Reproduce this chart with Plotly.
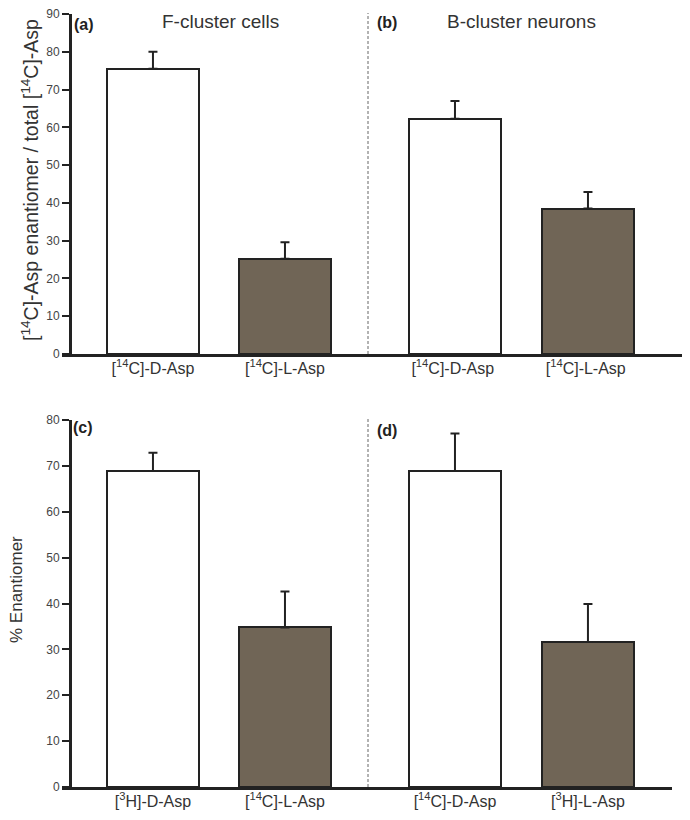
import plotly.graph_objects as go

# ---- data ----
cats_a = ["[<sup>14</sup>C]-D-Asp", "[<sup>14</sup>C]-L-Asp"]
vals_a = [75.5, 25.2]
err_a = [4.5, 4.4]

cats_b = ["[<sup>14</sup>C]-D-Asp ", "[<sup>14</sup>C]-L-Asp "]
vals_b = [62.3, 38.5]
err_b = [4.7, 4.4]

cats_c = ["[<sup>3</sup>H]-D-Asp", "[<sup>14</sup>C]-L-Asp"]
vals_c = [68.9, 34.8]
err_c = [4.0, 7.8]

cats_d = ["[<sup>14</sup>C]-D-Asp", "[<sup>3</sup>H]-L-Asp"]
vals_d = [68.9, 31.6]
err_d = [8.2, 8.3]

top_ticks = [0, 10, 20, 30, 40, 50, 60, 70, 80, 90]
bot_ticks = [0, 10, 20, 30, 40, 50, 60, 70, 80]

# page body has an 8px default margin; size the figure to fit the window
OFF = 8
W, H = 690 - 2 * OFF, 820 - 2 * OFF
def px(x):
    return (x - OFF) / W
def py(y):
    return 1 - (y - OFF) / H

FILLS = ["#ffffff", "#706556"]
EDGE = "#222222"
FONT = "Liberation Sans, Arial, sans-serif"

fig = go.Figure()

def add_bars(cats, vals, errs, xa, ya, width):
    fig.add_trace(go.Bar(
        x=cats, y=vals, xaxis=xa, yaxis=ya, width=width,
        marker=dict(color=FILLS, line=dict(color=EDGE, width=2)),
        error_y=dict(type="data", array=errs, arrayminus=[0] * len(errs),
                     symmetric=False, color=EDGE, thickness=2, width=4.5),
        showlegend=False, hoverinfo="x+y",
    ))

add_bars(cats_a, vals_a, err_a, "x", "y", 0.697)
add_bars(cats_b, vals_b, err_b, "x2", "y2", 0.69)
add_bars(cats_c, vals_c, err_c, "x3", "y3", 0.697)
add_bars(cats_d, vals_d, err_d, "x4", "y4", 0.69)

xcommon = dict(showline=True, linewidth=3, linecolor=EDGE, ticks="",
               showgrid=False, zeroline=False, type="category", automargin=False,
               tickfont=dict(family=FONT, size=16, color="#333333"),
               ticklabelstandoff=-2, ticklabeloverflow="allow", fixedrange=True)

top_dom = [py(354), py(14)]
bot_dom = [py(787), py(420)]

fig.update_layout(
    width=W, height=H,
    margin=dict(l=0, r=0, t=0, b=0, autoexpand=False),
    paper_bgcolor="white", plot_bgcolor="rgba(0,0,0,0)",
    bargap=0,
    xaxis=dict(domain=[px(62), px(368)], range=[-0.689, 1.629], anchor="y", **xcommon),
    xaxis2=dict(domain=[px(368), px(682)], range=[-0.654, 1.707], anchor="y2", **xcommon),
    xaxis3=dict(domain=[px(62), px(368)], range=[-0.689, 1.629], anchor="y3", **xcommon),
    xaxis4=dict(domain=[px(368), px(672)], range=[-0.654, 1.632], anchor="y4", **xcommon),
)

ycommon = dict(showline=True, linewidth=3, linecolor=EDGE, ticks="outside",
               ticklen=7, tickwidth=2, tickcolor=EDGE, showgrid=False,
               zeroline=False, automargin=False, ticklabeloverflow="allow",
               tickfont=dict(family=FONT, size=12, color="#444444"),
               fixedrange=True)

fig.update_layout(
    yaxis=dict(domain=top_dom, range=[0, 90.02], tickvals=top_ticks, anchor="free",
               position=px(70), **ycommon),
    yaxis2=dict(domain=top_dom, range=[0, 90.02], anchor="x2", visible=False),
    yaxis3=dict(domain=bot_dom, range=[0, 80.02], tickvals=bot_ticks, anchor="free",
                position=px(70), **ycommon),
    yaxis4=dict(domain=bot_dom, range=[0, 80.02], anchor="x4", visible=False),
)

# dashed separators
fig.add_shape(type="line", xref="paper", yref="paper", x0=px(368), x1=px(368),
              y0=py(354), y1=py(13), line=dict(color="#666666", width=1, dash="3px,2px"))
fig.add_shape(type="line", xref="paper", yref="paper", x0=px(368), x1=px(368),
              y0=py(787), y1=py(417), line=dict(color="#666666", width=1, dash="3px,2px"))

def ann(text, x, y, size, bold=False, angle=0, color="#222222"):
    fig.add_annotation(text=f"<b>{text}</b>" if bold else text, x=px(x), y=py(y),
                       xref="paper", yref="paper", showarrow=False,
                       textangle=angle, xanchor="center", yanchor="middle",
                       font=dict(family=FONT, size=size, color=color))

ann("(a)", 84, 24, 16, bold=True)
ann("(b)", 387, 23, 16, bold=True)
ann("(c)", 83, 427, 16, bold=True)
ann("(d)", 387, 430, 16, bold=True)
ann("F-cluster cells", 221, 22, 19, color="#333333")
ann("B-cluster neurons", 521, 22, 19, color="#333333")
ann("[<sup>14</sup>C]-Asp enantiomer / total [<sup>14</sup>C]-Asp", 30, 180, 19.5, angle=-90,
    color="#333333")
ann("% Enantiomer", 16, 590, 17, angle=-90, color="#333333")

fig.write_html("out.html")
